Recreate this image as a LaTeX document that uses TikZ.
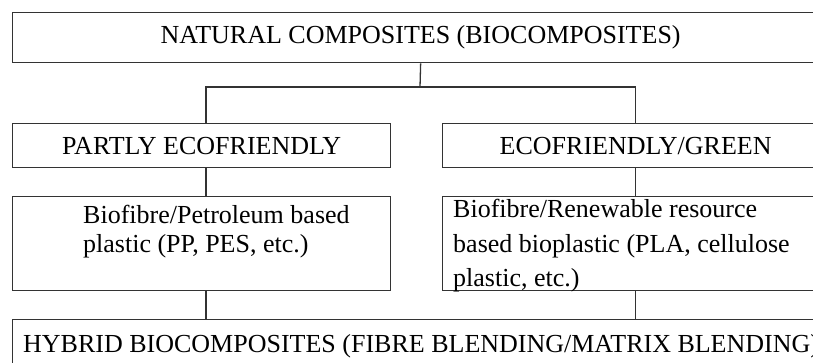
\documentclass[tikz,border=0pt]{standalone}
\usepackage{fontspec}
\setmainfont{Liberation Serif}
\usetikzlibrary{positioning}

\begin{document}
\begin{tikzpicture}[x=1pt, y=-1pt]
    % Styles
    \tikzstyle{box} = [rectangle, draw=black!80, line width=1.3pt, anchor=north west, inner sep=0pt, font=\fontsize{26}{30}\selectfont]
    \tikzstyle{txt} = [inner sep=0pt, anchor=north west, align=left, font=\fontsize{26}{29}\selectfont]
    \tikzstyle{line} = [draw=black!80, line width=1.3pt]

    \useasboundingbox (0,0) rectangle (813,363);
    \clip (0,0) rectangle (813,363);

    % Boxes
    \node[box, minimum width=816pt, minimum height=50pt] (nat) at (12,12) {NATURAL COMPOSITES (BIOCOMPOSITES)};
    \node[box, minimum width=378pt, minimum height=44pt] (pe) at (12,123) {PARTLY ECOFRIENDLY};
    \node[box, minimum width=386pt, minimum height=44pt] (eg) at (442,123) {ECOFRIENDLY/GREEN};
    \node[box, minimum width=378pt, minimum height=94pt] (pb) at (12,196) {};
    \node[box, minimum width=386pt, minimum height=94pt] (rb) at (442,196) {};
    \node[box, minimum width=816pt, minimum height=60pt] (hyb) at (12,319) {};

    % Texts in the lower boxes
    \node[txt] (pb-text) at (83,205) {Biofibre/Petroleum based\\plastic (PP, PES, etc.)};
    \node[txt, font=\fontsize{26}{34.5}\selectfont] (rb-text) at (453,199) {Biofibre/Renewable resource\\based bioplastic (PLA, cellulose\\plastic, etc.)};
    \node[txt, anchor=base west] (hyb-text) at (23,352) {HYBRID BIOCOMPOSITES (FIBRE BLENDING/MATRIX BLENDING)};

    % Lines
    \coordinate (fork) at (420,87);
    \coordinate (lstem) at (206,87);
    \draw[line] (nat.south) -- (fork);
    \draw[line] (pe.north -| lstem) |- (fork) -| (eg.north);
    \draw[line] (pe.south -| lstem) -- (pb.north -| lstem);
    \draw[line] (eg.south) -- (rb.north);
    \draw[line] (pb.south -| lstem) -- (hyb.north -| lstem);
    \draw[line] (rb.south) -- (rb.south |- hyb.north);
\end{tikzpicture}
\end{document}
